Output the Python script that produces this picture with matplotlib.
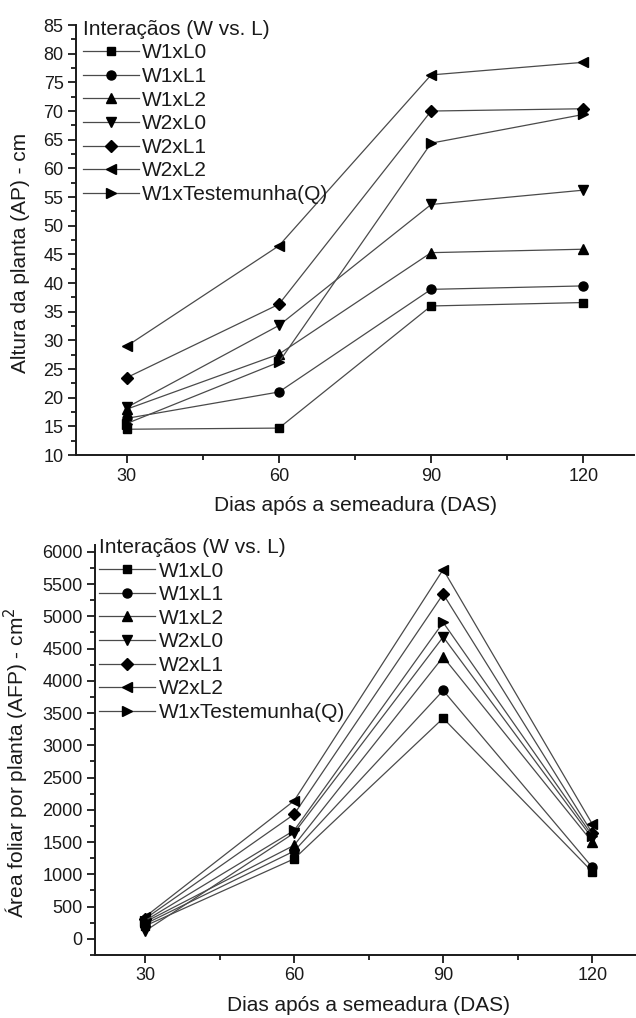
import matplotlib
matplotlib.use("Agg")
import matplotlib.pyplot as plt
from matplotlib.ticker import MultipleLocator

plt.rcParams['font.family'] = ['Liberation Sans', 'DejaVu Sans']

days = [30, 60, 90, 120]
labels = ["W1xL0", "W1xL1", "W1xL2", "W2xL0", "W2xL1", "W2xL2", "W1xTestemunha(Q)"]
markers = ['s', 'o', '^', 'v', 'D', '<', '>']
msizes = [6, 6.5, 7, 7, 6, 7, 7]

# Altura da planta (AP) - cm
ap_W1xL0 = [14.5, 14.7, 36.0, 36.6]
ap_W1xL1 = [16.4, 21.0, 38.9, 39.5]
ap_W1xL2 = [18.0, 27.6, 45.3, 45.9]
ap_W2xL0 = [18.3, 32.6, 53.7, 56.2]
ap_W2xL1 = [23.5, 36.3, 70.0, 70.4]
ap_W2xL2 = [29.0, 46.5, 76.3, 78.5]
ap_W1xQ = [15.5, 26.2, 64.4, 69.4]

# Área foliar por planta (AFP) - cm2
afp_W1xL0 = [200, 1240, 3420, 1040]
afp_W1xL1 = [230, 1360, 3850, 1110]
afp_W1xL2 = [260, 1450, 4370, 1500]
afp_W2xL0 = [120, 1640, 4680, 1560]
afp_W2xL1 = [310, 1930, 5345, 1640]
afp_W2xL2 = [340, 2140, 5725, 1780]
afp_W1xQ = [280, 1680, 4905, 1600]

ap_series = [ap_W1xL0, ap_W1xL1, ap_W1xL2, ap_W2xL0, ap_W2xL1, ap_W2xL2, ap_W1xQ]
afp_series = [afp_W1xL0, afp_W1xL1, afp_W1xL2, afp_W2xL0, afp_W2xL1, afp_W2xL2, afp_W1xQ]

TXT = '#1a1a1a'
fig = plt.figure(figsize=(6.36, 10.18), dpi=100)
ax1 = fig.add_axes([0.1195, 0.5530, 0.8774, 0.4224])
ax2 = fig.add_axes([0.1498, 0.0619, 0.8596, 0.4024])


def style(ax, ymaj, ymin, ylim, ylabel, leg_anchor, ylab_x):
    ax.set_xlim(20, 130)
    ax.set_ylim(*ylim)
    ax.set_xticks(days)
    ax.xaxis.set_minor_locator(MultipleLocator(15))
    ax.yaxis.set_major_locator(MultipleLocator(ymaj))
    ax.yaxis.set_minor_locator(MultipleLocator(ymin))
    for s in ['top', 'right']:
        ax.spines[s].set_visible(False)
    for s in ['left', 'bottom']:
        ax.spines[s].set_linewidth(1.4)
        ax.spines[s].set_color(TXT)
    ax.tick_params(which='major', direction='out', length=6, width=1.3,
                   labelsize=13, colors=TXT, pad=3)
    ax.tick_params(which='minor', direction='out', length=3.5, width=1.3, colors=TXT)
    ax.set_xlabel("Dias após a semeadura (DAS)", fontsize=15, color=TXT, labelpad=8)
    ax.set_ylabel(ylabel, fontsize=15, color=TXT)
    ax.yaxis.set_label_coords(ylab_x, 0.47)
    leg = ax.legend(title="Interaçãos (W vs. L)", loc='upper left',
                    bbox_to_anchor=leg_anchor, frameon=False, fontsize=15,
                    title_fontsize=15, handlelength=2.7, handletextpad=0.15,
                    labelspacing=0.22, borderpad=0, borderaxespad=0,
                    alignment='left', numpoints=1)
    for t in leg.get_texts():
        t.set_color(TXT)
    leg.get_title().set_color(TXT)


for lab, mk, ms, ys in zip(labels, markers, msizes, ap_series):
    ax1.plot(days, ys, color='#4a4a4a', lw=0.9, marker=mk, ms=ms,
             mfc='black', mec='black', label=lab)
for lab, mk, ms, ys in zip(labels, markers, msizes, afp_series):
    ax2.plot(days, ys, color='#4a4a4a', lw=0.9, marker=mk, ms=ms,
             mfc='black', mec='black', label=lab)

style(ax1, 5, 2.5, (10, 85), "Altura da planta (AP) - cm", (0.012, 1.012), -0.082)
style(ax2, 500, 250, (-250, 6100), "Área foliar por planta (AFP) - cm$^2$", (0.007, 1.018), -0.118)

fig.savefig("out.png", dpi=100)
